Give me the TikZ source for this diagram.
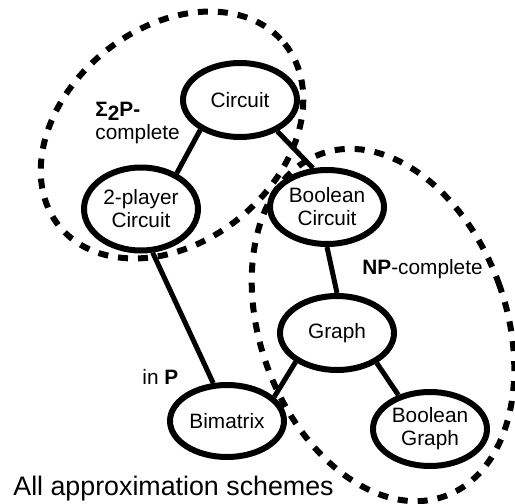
\documentclass[tikz,border=0pt]{standalone}
\usepackage{fontspec}
\setmainfont{Liberation Sans}
\usetikzlibrary{positioning, shapes.geometric}

\begin{document}
\begin{tikzpicture}[x=0.5pt, y=-0.5pt]
					\tikzstyle{game}=[ellipse, draw=black, line width=3pt, inner sep=0pt, minimum width=57pt, minimum height=37pt, align=center, font=\fontsize{10.4}{11.5}\selectfont]
					\tikzstyle{region}=[draw=black, line width=3pt, dash pattern=on 5pt off 5pt]
					\tikzstyle{tag}=[anchor=base west, inner sep=0pt, font=\fontsize{10.4}{11.5}\selectfont]
					\useasboundingbox (0,0) rectangle (515,504);
					\node[game](circ) at (240,100){Circuit};
					\node[game, minimum height=41.5pt](twop) at (141,209){2-player\\Circuit};
					\node[game](bcirc) at (327,207){Boolean\\Circuit};
					\node[game](graph) at (337,333){Graph};
					\node[game](bgraph) at (430,429){Boolean\\Graph};
					\node[game, minimum height=36pt](bimat) at (227,421){Bimatrix};
					\path[-, line width=2.5pt]
						(circ.217) edge node {}(twop.45)
						(circ.320) edge node {}(bcirc.110)
						(twop.285) edge node {}(bimat.110)
						(bcirc.south) edge node {}(graph.north)
						(graph.215) edge node {}(bimat.27)
						(graph.323) edge node {}(bgraph.133);
					\coordinate (sigc) at (172,135);
					\coordinate (npc) at (383,325);
					\draw[region, rotate around={39:(sigc)}] (sigc) ellipse [x radius=145, y radius=107];
					\draw[region, rotate around={20:(npc)}] (npc) ellipse [x radius=123, y radius=182];
					\node[tag](sigl) at (95,116){\textbf{Σ\raisebox{-0.45ex}{2}P-}};
					\node[tag](compl) at (95,139){complete};
					\node[tag](npl) at (362,274){\textbf{NP}-complete};
					\node[tag](inp) at (142,384){in \textbf{P}};
					\node[tag, font=\fontsize{13.4}{15}\selectfont](allap) at (13,495){All approximation schemes};
				\end{tikzpicture}
\end{document}
